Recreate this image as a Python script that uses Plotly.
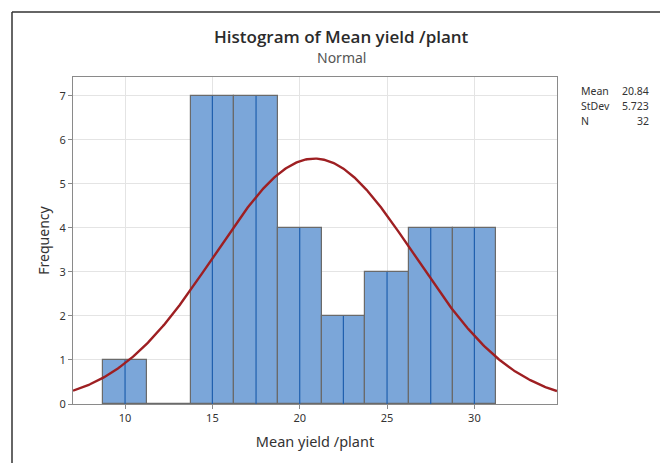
import numpy as np
import plotly.graph_objects as go

# Data
bin_centers = [10, 12.5, 15, 17.5, 20, 22.5, 25, 27.5, 30]
frequencies = [1, 0, 7, 7, 4, 2, 3, 4, 4]
bin_width = 2.5
stat_labels = ["Mean", "StDev", "N"]
stat_values = ["20.84", "5.723", "32"]
mean_val = 20.84
sd_val = 5.723
n_val = 32
x_ticks = [10, 15, 20, 25, 30]
y_ticks = [0, 1, 2, 3, 4, 5, 6, 7]

FONT = "Noto Sans"
W, H = 660, 463
ML, MR, MT, MB = 73, 103, 77, 59
XR = [7.02, 34.73]
YR = [0, 7.43]

fig = go.Figure()

fig.add_trace(go.Bar(
    x=bin_centers, y=frequencies, width=[bin_width] * len(bin_centers),
    marker=dict(color="#7BA6D9", line=dict(color="#6a6a6a", width=1.2)),
    hoverinfo="skip", showlegend=False,
))

# dark blue center line in each bar
lx, ly = [], []
for c, f in zip(bin_centers, frequencies):
    if f > 0:
        lx += [c, c, None]
        ly += [0, f, None]
fig.add_trace(go.Scatter(x=lx, y=ly, mode="lines",
                         line=dict(color="#1F5FAE", width=1.2),
                         hoverinfo="skip", showlegend=False))

# fitted normal curve
xs = np.linspace(XR[0], XR[1], 400)
ys = n_val * bin_width / (sd_val * np.sqrt(2 * np.pi)) * np.exp(-0.5 * ((xs - mean_val) / sd_val) ** 2)
fig.add_trace(go.Scatter(x=xs, y=ys, mode="lines",
                         line=dict(color="#9E1F22", width=2.4),
                         hoverinfo="skip", showlegend=False))

pw = W - ML - MR
ph = H - MT - MB

def px(x):
    return (x - ML) / pw

def py(y):
    return (H - MB - y) / ph

annotations = [
    dict(text="Histogram of Mean yield /plant", x=px(341), y=py(37), xref="paper", yref="paper",
         showarrow=False, font=dict(family="Open Sans", size=17, color="#2b2b2b", weight=600),
         xanchor="center", yanchor="middle"),
    dict(text="Normal", x=px(341), y=py(58), xref="paper", yref="paper",
         showarrow=False, font=dict(family=FONT, size=14, color="#555555"), xanchor="center", yanchor="middle"),
]
for i, (lab, val) in enumerate(zip(stat_labels, stat_values)):
    yy = py(91 + i * 15)
    annotations.append(dict(text=lab, x=px(579), y=yy, xref="paper", yref="paper", showarrow=False,
                            font=dict(family=FONT, size=10.5, color="#333333"), xanchor="left", yanchor="middle"))
    annotations.append(dict(text=val, x=px(651), y=yy, xref="paper", yref="paper", showarrow=False,
                            font=dict(family=FONT, size=10.5, color="#333333"), xanchor="right", yanchor="middle"))

shapes = [
    dict(type="line", xref="paper", yref="paper", x0=px(12), y0=py(12), x1=px(662), y1=py(12),
         line=dict(color="#333333", width=1.5)),
    dict(type="line", xref="paper", yref="paper", x0=px(12), y0=py(12), x1=px(12), y1=py(465),
         line=dict(color="#333333", width=1.5)),
]

fig.update_layout(
    width=W, height=H,
    margin=dict(l=ML, r=MR, t=MT, b=MB),
    paper_bgcolor="white", plot_bgcolor="white",
    bargap=0,
    annotations=annotations, shapes=shapes,
    font=dict(family=FONT, color="#333333"),
    xaxis=dict(range=XR, tickvals=x_ticks, ticktext=[str(t) for t in x_ticks],
               showgrid=True, gridcolor="#e4e4e4", gridwidth=1,
               showline=True, linecolor="#8a8a8a", linewidth=1, mirror=True,
               ticks="outside", ticklen=4, tickcolor="#8a8a8a",
               tickfont=dict(family=FONT, size=11, color="#333333"),
               title=dict(text="Mean yield /plant", font=dict(family=FONT, size=14.5, color="#333333"), standoff=12),
               zeroline=False, fixedrange=True),
    yaxis=dict(range=YR, tickvals=y_ticks, ticktext=[str(t) for t in y_ticks],
               showgrid=True, gridcolor="#e4e4e4", gridwidth=1,
               showline=True, linecolor="#8a8a8a", linewidth=1, mirror=True,
               ticks="outside", ticklen=4, tickcolor="#8a8a8a",
               tickfont=dict(family=FONT, size=11, color="#333333"),
               title=dict(text="Frequency", font=dict(family=FONT, size=14, color="#333333"), standoff=6),
               zeroline=False, fixedrange=True),
)

fig.write_html("out.html")
